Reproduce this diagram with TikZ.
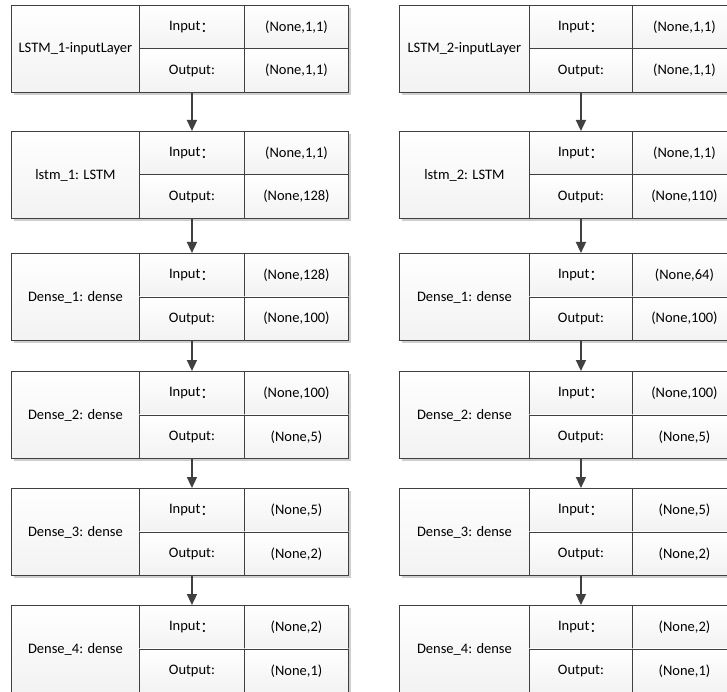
\documentclass[tikz,border=0pt]{standalone}
\usepackage{fontspec}
\setmainfont{Carlito}
\newfontfamily\cjk{Noto Sans CJK SC}
\usetikzlibrary{arrows.meta}
\definecolor{linec}{HTML}{404040}
\definecolor{shadc}{HTML}{CFCFCF}
\tikzset{
  cell/.style={draw=linec, line width=0.9pt, inner sep=0pt, anchor=north west,
    top color=white, bottom color=gray!10, font=\fontsize{14.5}{16}\selectfont},
  arr/.style={draw=linec, line width=1.6pt, -{Triangle[length=11pt,width=10pt]}},
}
\newcommand\inlab{Input\raisebox{-1.5pt}{\cjk ：}}
% id, xL, ytop, name, in, out, w1, w2, w3
\newcommand\mklayer[9]{%
  \fill[shadc] ({#2+3},{#3+3}) rectangle ({#2+#7+#8+#9+3},{#3+90});
  \node[cell, minimum width=#7pt, minimum height=87pt] (#1-n) at (#2,#3) {#4};
  \node[cell, minimum width=#8pt, minimum height=43.5pt] (#1-il) at ({#2+#7},#3) {\inlab};
  \node[cell, minimum width=#8pt, minimum height=43.5pt] (#1-ol) at ({#2+#7},{#3+43.5}) {Output:};
  \node[cell, minimum width=#9pt, minimum height=43.5pt] (#1-iv) at ({#2+#7+#8},#3) {#5};
  \node[cell, minimum width=#9pt, minimum height=43.5pt] (#1-ov) at ({#2+#7+#8},{#3+43.5}) {#6};
}
\begin{document}
\begin{tikzpicture}[x=1pt,y=-1pt]
\path[use as bounding box] (0,0) rectangle (727,692);
\clip (0,0) rectangle (727,692);
% left column
\mklayer{a1}{11}{5}{LSTM\_1-inputLayer}{(None,1,1)}{(None,1,1)}{128}{105}{104}
\mklayer{a2}{11}{131}{lstm\_1: LSTM}{(None,1,1)}{(None,128)}{128}{105}{104}
\mklayer{a3}{11}{253}{Dense\_1: dense}{(None,128)}{(None,100)}{128}{105}{104}
\mklayer{a4}{11}{371}{Dense\_2: dense}{(None,100)}{(None,5)}{128}{105}{104}
\mklayer{a5}{11}{488}{Dense\_3: dense}{(None,5)}{(None,2)}{128}{105}{104}
\mklayer{a6}{11}{605}{Dense\_4: dense}{(None,2)}{(None,1)}{128}{105}{104}
% right column
\mklayer{b1}{399}{5}{LSTM\_2-inputLayer}{(None,1,1)}{(None,1,1)}{130}{103}{104}
\mklayer{b2}{399}{131}{lstm\_2: LSTM}{(None,1,1)}{(None,110)}{130}{103}{104}
\mklayer{b3}{399}{253}{Dense\_1: dense}{(None,64)}{(None,100)}{130}{103}{104}
\mklayer{b4}{399}{371}{Dense\_2: dense}{(None,100)}{(None,5)}{130}{103}{104}
\mklayer{b5}{399}{488}{Dense\_3: dense}{(None,5)}{(None,2)}{130}{103}{104}
\mklayer{b6}{399}{605}{Dense\_4: dense}{(None,2)}{(None,1)}{130}{103}{104}
% arrows
\foreach \c in {a,b}{
  \draw[arr] (\c1-ol.south) -- (\c2-il.north);
  \draw[arr] (\c2-ol.south) -- (\c3-il.north);
  \draw[arr] (\c3-ol.south) -- (\c4-il.north);
  \draw[arr] (\c4-ol.south) -- (\c5-il.north);
  \draw[arr] (\c5-ol.south) -- (\c6-il.north);
}
\end{tikzpicture}
\end{document}
